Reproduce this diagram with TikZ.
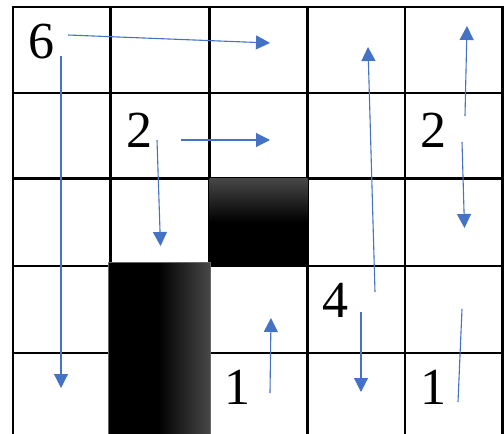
\documentclass[tikz,border=0pt]{standalone}
\usepackage{fontspec}
\setmainfont{Liberation Serif}
\usetikzlibrary{arrows.meta}
\definecolor{arrowblue}{HTML}{4472C4}
\begin{document}
\begin{tikzpicture}[x=1pt,y=-1pt,
  gridline/.style={line width=2.8pt,black},
  num/.style={inner sep=0pt,font=\fontsize{52}{52}\selectfont},
  arr/.style={arrowblue,line width=1.1pt,-{Triangle[length=14pt,width=14pt]}},
  plainline/.style={arrowblue,line width=1.1pt}]
\useasboundingbox (0,0) rectangle (504,434);
% grid
\foreach \y in {7,93,178.5,266,353} \draw[gridline] (11.5,\y) -- (504,\y);
\foreach \x in {13,110.5,209.5,307.5,405,502.5} \draw[gridline] (\x,5.5) -- (\x,434);
% obstacles
\fill[black] (209.5,178) rectangle (307.5,267);
\shade[top color=black!72,bottom color=black] (209.5,178) rectangle (307.5,222);
\fill[black] (108.5,262) rectangle (210,435);
\shade[left color=black,right color=black!72] (158,262) rectangle (210,435);
\draw[black!60,line width=0.8pt] (108.5,435) -- (108.5,262) -- (210,262) -- (210,435);
% numbers
\node[num] (n6) at (41,42) {6};
\node[num] (n2a) at (139.5,130) {2};
\node[num] (n2b) at (433,130) {2};
\node[num] (n4) at (335,300) {4};
\node[num] (n1a) at (237.5,387) {1};
\node[num] (n1b) at (433.5,387) {1};
% arrow endpoints
\coordinate (a1s) at (68,35);   \coordinate (a1e) at (270,43);
\coordinate (a2s) at (61,56);   \coordinate (a2e) at (61,388);
\coordinate (a3s) at (181,140); \coordinate (a3e) at (270,140);
\coordinate (a4s) at (157,140); \coordinate (a4e) at (160.5,246);
\coordinate (a5s) at (375,292); \coordinate (a5e) at (368,47);
\coordinate (a6s) at (465,116); \coordinate (a6e) at (467,26);
\coordinate (a7s) at (462,142); \coordinate (a7e) at (464.5,228);
\coordinate (a8s) at (361,312); \coordinate (a8e) at (361,392);
\coordinate (a9s) at (270,393); \coordinate (a9e) at (271,318);
\coordinate (l1s) at (462,309); \coordinate (l1e) at (458,402);
\draw[arr] (a1s) -- (a1e);
\draw[arr] (a2s) -- (a2e);
\draw[arr] (a3s) -- (a3e);
\draw[arr] (a4s) -- (a4e);
\draw[arr] (a5s) -- (a5e);
\draw[arr] (a6s) -- (a6e);
\draw[arr] (a7s) -- (a7e);
\draw[arr] (a8s) -- (a8e);
\draw[arr] (a9s) -- (a9e);
\draw[plainline] (l1s) -- (l1e);
\end{tikzpicture}
\end{document}
